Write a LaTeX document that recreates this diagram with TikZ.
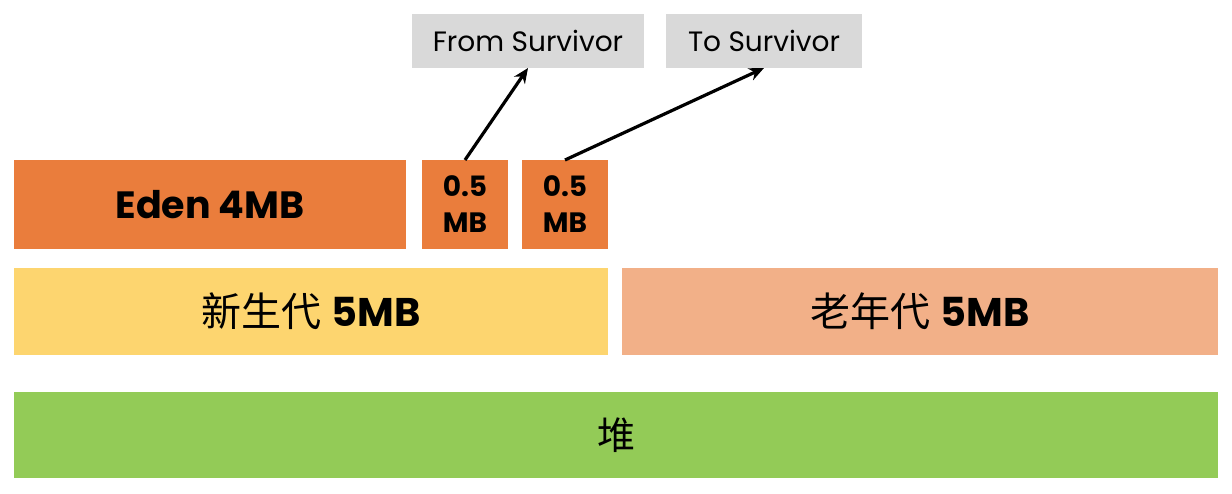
\documentclass[tikz,border=0pt]{standalone}
\usepackage{fontspec}
\setmainfont{Poppins}
\newfontfamily\cjk{Noto Sans CJK SC}
\usetikzlibrary{arrows.meta}
\definecolor{edenc}{HTML}{EA7D3C}
\definecolor{youngc}{HTML}{FDD56F}
\definecolor{oldc}{HTML}{F2B088}
\definecolor{heapc}{HTML}{93CB57}
\definecolor{grayc}{HTML}{D9D9D9}
\tikzset{
  blk/.style={inner sep=0pt, outer sep=0pt, text=black, align=center},
  conn/.style={line width=3.2pt, -{Stealth[length=15pt,width=13pt]}},
}
\begin{document}
\begin{tikzpicture}[x=1pt,y=-1pt]
\useasboundingbox (0,0) rectangle (1232,494);
\node[blk, fill=grayc, minimum width=232pt, minimum height=54pt, font=\fontsize{28}{32}\selectfont] (from) at (528,41) {From Survivor};
\node[blk, fill=grayc, minimum width=196pt, minimum height=54pt, font=\fontsize{28}{32}\selectfont] (to) at (764,41) {To Survivor};
\node[blk, fill=edenc, minimum width=392pt, minimum height=89pt, font=\bfseries\fontsize{38}{44}\selectfont] (eden) at (210,204.5) {Eden 4MB};
\node[blk, fill=edenc, minimum width=86pt, minimum height=89pt, font=\bfseries\fontsize{28}{36}\selectfont] (s1) at (465,204.5) {0.5\\MB};
\node[blk, fill=edenc, minimum width=86pt, minimum height=89pt, font=\bfseries\fontsize{28}{36}\selectfont] (s2) at (565,204.5) {0.5\\MB};
\node[blk, fill=youngc, minimum width=594pt, minimum height=87pt, font=\fontsize{40}{46}\selectfont] (young) at (311,311.5) {{\cjk 新生代} \textbf{5MB}};
\node[blk, fill=oldc, minimum width=596pt, minimum height=87pt, font=\fontsize{40}{46}\selectfont] (old) at (920,311.5) {{\cjk 老年代} \textbf{5MB}};
\node[blk, fill=heapc, minimum width=1204pt, minimum height=86pt, font=\fontsize{38}{44}\selectfont] (heap) at (616,435) {\cjk 堆};
\draw[conn] (s1.north) -- (from.south);
\draw[conn] (s2.north) -- (to.south);
\end{tikzpicture}
\end{document}
